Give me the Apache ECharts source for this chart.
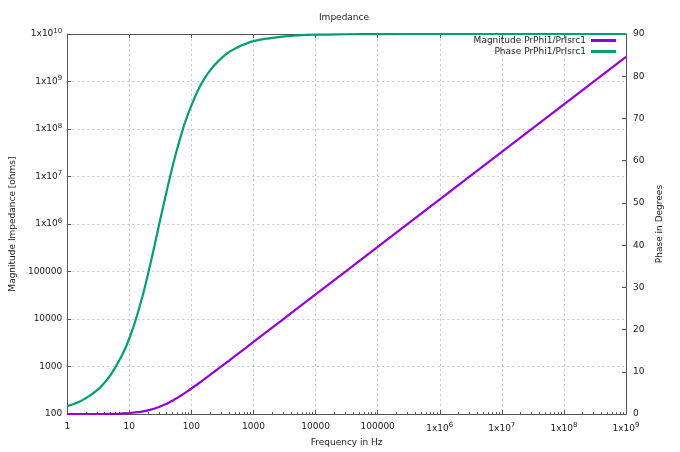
<!DOCTYPE html>
<html>
<head>
<meta charset="utf-8">
<title>Impedance</title>
<script src="https://cdn.jsdelivr.net/npm/echarts@6/dist/echarts.min.js"></script>
<style>
  html, body { margin: 0; padding: 0; background: #fff; }
  #chart { width: 680px; height: 452px; }
</style>
</head>
<body>
<div id="chart"></div>
<script>
// frequencies in Hz
var freqs = [1, 1.5, 2, 3, 4, 5, 7, 10, 15, 20, 25, 30, 40, 50, 60, 70, 80, 100,
    130, 150, 200, 300, 400, 500, 700, 1000, 2000, 3000, 5000, 10000, 30000,
    1e5, 1e6, 1e7, 1e8, 1e9];
// magnitude in ohms (left axis)
var magnitude = [100, 100.1, 100.2, 100.5, 100.9, 101.4, 102.6, 105.5, 111.8, 120.1,
    129.5, 140.9, 165.6, 193.4, 222, 251.7, 282.3, 346,
    440.5, 505, 667.5, 995, 1324, 1653, 2312, 3300, 6600, 9900, 16500, 33000, 99000,
    3.3e5, 3.3e6, 3.3e7, 3.3e8, 3.3e9];
// phase in degrees (right axis)
var phase = [1.9, 2.8, 3.8, 5.6, 7.5, 9.3, 12.9, 17.9, 26, 33.2, 39.4, 44.7, 52.8, 58.8,
    63.2, 66.6, 69.3, 73.1, 76.9, 78.6, 81.4, 84.2, 85.7, 86.5, 87.5, 88.3,
    89.1, 89.4, 89.65, 89.83, 89.94, 89.98, 90, 90, 90, 90];

var magData = [], phaseData = [];
for (var i = 0; i < freqs.length; i++) {
    magData.push([freqs[i], magnitude[i]]);
    phaseData.push([freqs[i], phase[i]]);
}

// small log ticks (2..9 in every decade) on the frequency axis
var minorTicks = [];
for (var d = 1; d < 1e9; d *= 10) {
    for (var k = 2; k <= 9; k++) {
        minorTicks.push(k * d);
    }
}

var fontName = 'DejaVu Sans';
var textColor = '#222';
var axisColor = '#555';
var gridLine = { show: true, lineStyle: { color: '#c8c8c8', type: [2, 3], width: 1 } };
var supRich = { sup: { fontSize: 7, fontFamily: fontName, color: textColor, padding: [0, 0, 6, 0] } };

var powLabel = function (v) {
    var e = Math.round(Math.log10(v));
    if (e >= 6) {
        return '1x10{sup|' + e + '}';
    }
    return String(Math.round(v));
};

var myChart = echarts.init(document.getElementById('chart'));
var option = {
    animation: false,
    backgroundColor: '#fff',
    textStyle: { fontFamily: fontName },
    title: {
        text: 'Impedance',
        left: 344,
        top: 13,
        padding: 0,
        textAlign: 'center',
        textStyle: { fontSize: 9, fontWeight: 'normal', color: textColor, fontFamily: fontName }
    },
    legend: {
        orient: 'vertical',
        right: 64,
        top: 36,
        align: 'right',
        itemWidth: 25,
        itemHeight: 3,
        itemGap: 2,
        padding: 0,
        icon: 'rect',
        textStyle: { fontSize: 9, color: textColor, fontFamily: fontName },
        data: ['Magnitude PrPhi1/PrIsrc1', 'Phase PrPhi1/PrIsrc1']
    },
    grid: {
        left: 63,
        right: 54,
        top: 34,
        bottom: 37,
        containLabel: false
    },
    xAxis: [
        {
            type: 'log',
            logBase: 10,
            min: 1,
            max: 1e9,
            splitNumber: 9,
            name: 'Frequency in Hz',
            nameLocation: 'middle',
            nameGap: 20,
            nameTextStyle: { fontSize: 9, color: textColor, fontFamily: fontName },
            axisLine: { lineStyle: { color: axisColor, width: 1 } },
            axisTick: { inside: true, length: 4, lineStyle: { color: axisColor } },
            axisLabel: {
                margin: 8,
                fontSize: 9,
                color: textColor,
                fontFamily: fontName,
                formatter: powLabel,
                rich: supRich
            },
            splitLine: gridLine
        },
        {
            type: 'log',
            logBase: 10,
            min: 1,
            max: 1e9,
            splitNumber: 9,
            position: 'top',
            axisLine: { lineStyle: { color: axisColor, width: 1 } },
            axisTick: { inside: true, length: 4, lineStyle: { color: axisColor } },
            axisLabel: { show: false },
            splitLine: { show: false }
        },
        {
            type: 'log',
            logBase: 10,
            min: 1,
            max: 1e9,
            position: 'bottom',
            axisLine: { show: false },
            axisTick: {
                show: true,
                inside: true,
                length: 2,
                customValues: minorTicks,
                lineStyle: { color: axisColor }
            },
            axisLabel: { show: false },
            splitLine: { show: false }
        }
    ],
    yAxis: [
        {
            type: 'log',
            logBase: 10,
            min: 100,
            max: 1e10,
            splitNumber: 8,
            name: 'Magnitude Impedance [ohms]',
            nameLocation: 'middle',
            nameGap: 46,
            nameTextStyle: { fontSize: 9, color: textColor, fontFamily: fontName },
            axisLine: { show: true, lineStyle: { color: axisColor, width: 1 } },
            axisTick: { show: true, inside: true, length: 4, lineStyle: { color: axisColor } },
            axisLabel: {
                margin: 5,
                fontSize: 9,
                color: textColor,
                fontFamily: fontName,
                formatter: powLabel,
                rich: supRich
            },
            splitLine: gridLine
        },
        {
            type: 'value',
            min: 0,
            max: 90,
            interval: 10,
            position: 'right',
            name: 'Phase in Degrees',
            nameLocation: 'middle',
            nameGap: 26,
            nameTextStyle: { fontSize: 9, color: textColor, fontFamily: fontName },
            axisLine: { show: true, lineStyle: { color: axisColor, width: 1 } },
            axisTick: { show: true, inside: true, length: 4, lineStyle: { color: axisColor } },
            axisLabel: { margin: 7, fontSize: 9, color: textColor, fontFamily: fontName },
            splitLine: { show: false }
        }
    ],
    series: [
        {
            name: 'Magnitude PrPhi1/PrIsrc1',
            type: 'line',
            xAxisIndex: 0,
            yAxisIndex: 0,
            showSymbol: false,
            symbol: 'none',
            smooth: false,
            color: '#9400d3',
            lineStyle: { width: 2.2, color: '#9400d3' },
            data: magData
        },
        {
            name: 'Phase PrPhi1/PrIsrc1',
            type: 'line',
            xAxisIndex: 0,
            yAxisIndex: 1,
            showSymbol: false,
            symbol: 'none',
            smooth: true,
            color: '#009e73',
            lineStyle: { width: 2.2, color: '#009e73' },
            data: phaseData
        }
    ]
};
myChart.setOption(option);
window.onresize = myChart.resize;
</script>
</body>
</html>
